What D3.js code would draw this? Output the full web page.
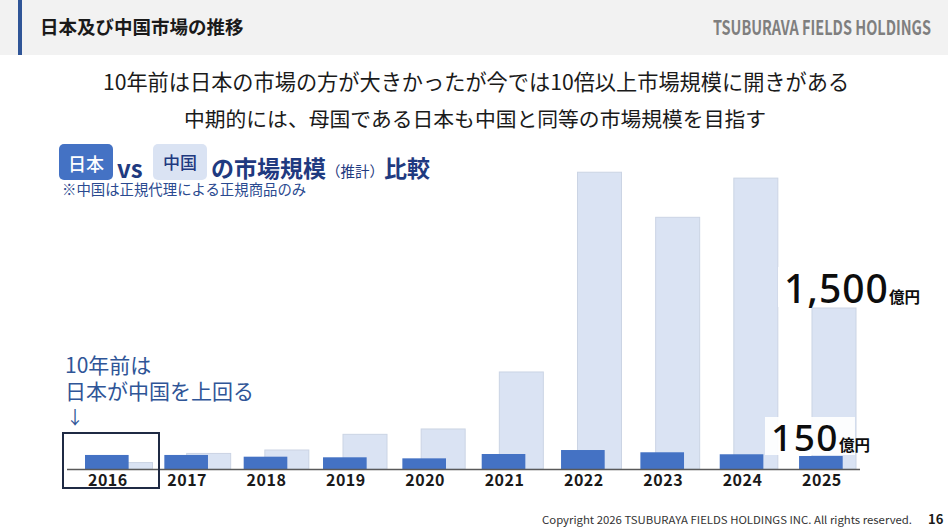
<!DOCTYPE html>
<html lang="ja">

<head>
  <meta charset="utf-8" />
  <style>
    body {
      margin: 0;
      background: #fff;
    }

    svg {
      display: block;
    }

    text {
      font-family: "Noto Sans CJK JP", "Noto Sans", sans-serif;
    }
  </style>
</head>

<body>
  <div id="chart1"></div>

  <script src="https://cdnjs.cloudflare.com/ajax/libs/d3/7.8.5/d3.min.js"></script>

  <script>
    // data (億円)
    const years = ["2016", "2017", "2018", "2019", "2020", "2021", "2022", "2023", "2024", "2025"];
    const japanValues = [162, 162, 142, 135, 123, 173, 219, 193, 170, 150];
    const chinaValues = [60, 145, 177, 323, 373, 904, 2765, 2345, 2710, 1500];
    const japanLabel = ["150", "億円"];
    const chinaLabel = ["1,500", "億円"];

    const width = 948;
    const height = 528;
    const baseY = 469;

    const svg = d3.select("#chart1")
      .append("svg")
      .attr("width", width)
      .attr("height", height);

    // header band
    svg.append("rect")
      .attr("x", 0).attr("y", 0)
      .attr("width", width).attr("height", 55)
      .attr("fill", "#f2f2f2");
    svg.append("rect")
      .attr("x", 18).attr("y", 0)
      .attr("width", 4).attr("height", 55)
      .attr("fill", "#2f5597");
    svg.append("text")
      .attr("x", 40).attr("y", 34)
      .attr("font-size", 18.5).attr("font-weight", 700)
      .attr("fill", "#1a1a1a")
      .text("日本及び中国市場の推移");
    svg.append("text")
      .attr("x", 713).attr("y", 35)
      .attr("font-family", "'Liberation Sans Narrow', 'DejaVu Sans Condensed', sans-serif")
      .attr("font-size", 20).attr("font-weight", 700)
      .attr("fill", "#7f7f7f")
      .attr("textLength", 218).attr("lengthAdjust", "spacingAndGlyphs")
      .text("TSUBURAVA FIELDS HOLDINGS");

    // lead text
    svg.append("text")
      .attr("x", 476).attr("y", 90)
      .attr("text-anchor", "middle")
      .attr("font-size", 21.2).attr("fill", "#1a1a1a")
      .text("10年前は日本の市場の方が大きかったが今では10倍以上市場規模に開きがある");
    svg.append("text")
      .attr("x", 475).attr("y", 127)
      .attr("text-anchor", "middle")
      .attr("font-size", 20.8).attr("fill", "#1a1a1a")
      .text("中期的には、母国である日本も中国と同等の市場規模を目指す");

    // chart title with the two tags
    const navy = "#1f3a80";
    svg.append("rect")
      .attr("x", 59).attr("y", 144)
      .attr("width", 54).attr("height", 36).attr("rx", 5)
      .attr("fill", "#4472c4");
    svg.append("text")
      .attr("x", 86).attr("y", 171)
      .attr("text-anchor", "middle")
      .attr("font-size", 18).attr("font-weight", 500)
      .attr("fill", "#fff")
      .text("日本");
    svg.append("text")
      .attr("x", 117).attr("y", 178)
      .attr("font-size", 24).attr("font-weight", 700)
      .attr("fill", navy)
      .text("vs");
    svg.append("rect")
      .attr("x", 153).attr("y", 144)
      .attr("width", 54).attr("height", 36).attr("rx", 5)
      .attr("fill", "#dae3f3");
    svg.append("text")
      .attr("x", 180).attr("y", 169)
      .attr("text-anchor", "middle")
      .attr("font-size", 17).attr("font-weight", 500)
      .attr("fill", navy)
      .text("中国");
    const title = svg.append("text")
      .attr("x", 211).attr("y", 177)
      .attr("font-weight", 700)
      .attr("fill", navy);
    title.append("tspan").attr("font-size", 23).text("の市場規模");
    title.append("tspan").attr("font-size", 14.5).attr("font-weight", 400).text("（推計）");
    title.append("tspan").attr("font-size", 23).text("比較");
    svg.append("text")
      .attr("x", 62).attr("y", 195)
      .attr("font-size", 14.4)
      .attr("fill", "#2a4a90")
      .text("※中国は正規代理による正規商品のみ");

    // scales: the two series sit on slightly different grids in the source
    const xJp = d3.scaleBand().domain(years).range([85, 842.7]).paddingInner(0.45);
    const xCn = d3.scaleBand().domain(years).range([108.5, 856]).paddingInner(0.437);
    const yCn = d3.scaleLinear().domain([0, 1500]).range([baseY, 308]);
    const yJp = d3.scaleLinear().domain([0, 150]).range([baseY, 456]);

    const rows = years.map((y, i) => ({ year: y, jp: japanValues[i], cn: chinaValues[i] }));

    // China bars (behind)
    svg.selectAll("rect.cn")
      .data(rows)
      .join("rect")
      .attr("class", "cn")
      .attr("x", d => xCn(d.year))
      .attr("y", d => yCn(d.cn))
      .attr("width", xCn.bandwidth())
      .attr("height", d => baseY - yCn(d.cn))
      .attr("fill", "#dae3f3")
      .attr("stroke", "#cbd4e4")
      .attr("stroke-width", 1);

    // Japan bars
    svg.selectAll("rect.jp")
      .data(rows)
      .join("rect")
      .attr("class", "jp")
      .attr("x", d => xJp(d.year))
      .attr("y", d => yJp(d.jp))
      .attr("width", xJp.bandwidth())
      .attr("height", d => baseY - yJp(d.jp))
      .attr("fill", "#4472c4");

    // baseline
    svg.append("line")
      .attr("x1", 67).attr("x2", 860)
      .attr("y1", baseY + 0.5).attr("y2", baseY + 0.5)
      .attr("stroke", "#595959")
      .attr("stroke-width", 1.5);

    // year labels
    const axis = svg.append("g")
      .attr("transform", `translate(1,${baseY})`)
      .call(d3.axisBottom(xJp).tickSize(0).tickPadding(6));
    axis.select(".domain").remove();
    axis.selectAll("text")
      .attr("font-family", "'Noto Sans', sans-serif")
      .attr("font-size", 16)
      .attr("font-weight", 600)
      .attr("letter-spacing", 0.5)
      .attr("fill", "#1a1a1a");

    // 2016 highlight box and note
    const boxX = xJp("2016") - 22;
    svg.append("rect")
      .attr("x", boxX).attr("y", 433)
      .attr("width", 96).attr("height", 55)
      .attr("fill", "none")
      .attr("stroke", "#1f2a44")
      .attr("stroke-width", 2);
    const noteColor = "#2f5597";
    svg.append("text")
      .attr("x", 65).attr("y", 373)
      .attr("font-size", 21).attr("fill", noteColor)
      .text("10年前は");
    svg.append("text")
      .attr("x", 65).attr("y", 399)
      .attr("font-size", 21).attr("fill", noteColor)
      .text("日本が中国を上回る");
    svg.append("text")
      .attr("x", 66).attr("y", 424)
      .attr("font-size", 18).attr("fill", noteColor)
      .text("↓");

    // value callouts
    function callout(year, label, xShift, yTop, boxW, boxH, baseline, bigSize, spacing) {
      const x = xCn(year) + xShift;
      svg.append("rect")
        .attr("x", x).attr("y", yTop)
        .attr("width", boxW).attr("height", boxH)
        .attr("fill", "#fff")
        .attr("fill-opacity", 0.9);
      const t = svg.append("text")
        .attr("x", x + 6).attr("y", baseline)
        .attr("fill", "#0d0d0d");
      t.append("tspan")
        .attr("font-family", "'Noto Sans', sans-serif")
        .attr("font-size", bigSize).attr("font-weight", 500)
        .attr("letter-spacing", spacing)
        .text(label[0]);
      t.append("tspan")
        .attr("font-size", 15.5).attr("font-weight", 700)
        .attr("letter-spacing", 0)
        .text(label[1]);
    }
    callout("2025", chinaLabel, -34, 267, 108, 40, 303, 39, 1);
    callout("2025", japanLabel, -47, 417, 90, 38, 451, 37, 1.5);

    // footer
    svg.append("text")
      .attr("x", 542).attr("y", 524)
      .attr("font-family", "'DejaVu Sans', Verdana, sans-serif")
      .attr("font-size", 10.5).attr("fill", "#333")
      .attr("textLength", 370).attr("lengthAdjust", "spacingAndGlyphs")
      .text("Copyright 2026 TSUBURAYA FIELDS HOLDINGS INC. All rights reserved.");
    svg.append("text")
      .attr("x", 928).attr("y", 524)
      .attr("font-family", "'DejaVu Sans', sans-serif")
      .attr("font-size", 13).attr("font-weight", 700)
      .attr("fill", "#1a1a1a")
      .text("16");
  </script>
</body>

</html>
